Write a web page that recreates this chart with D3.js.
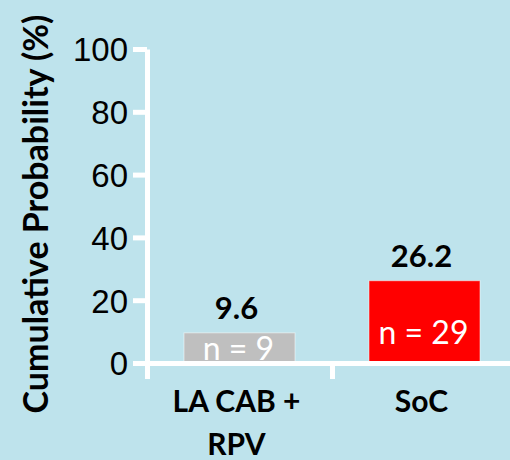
<!DOCTYPE html>
<html>
<head>
<meta charset="utf-8">
<script src="https://cdn.jsdelivr.net/npm/d3@7"></script>
<style>
  html, body { margin: 0; padding: 0; background: #bee3ec; }
  svg { display: block; font-family: Lato, "Open Sans", sans-serif; }
</style>
</head>
<body>
<div id="chart"></div>
<script>
// chart data
const categories = [['LA CAB +', 'RPV'], ['SoC']];
const values = [9.6, 26.2];
const nLabels = ['n = 9', 'n = 29'];
const barColors = ['#bfbfbf', '#ff0000'];
const yTicks = [0, 20, 40, 60, 80, 100];

const width = 510, height = 460;
const margin = {left: 147, top: 49, bottom: 97};
const plotRight = 517;
const y0 = height - margin.bottom;

const svg = d3.select('#chart').append('svg')
    .attr('width', width).attr('height', height);

const x = d3.scaleBand()
    .domain(d3.range(categories.length))
    .range([margin.left, plotRight])
    .padding(0);
const xEdge = d3.scaleLinear()
    .domain([0, categories.length])
    .range([margin.left, plotRight]);
const y = d3.scaleLinear()
    .domain([0, 100])
    .range([y0, margin.top]);

const barW = x.bandwidth() * 0.6;

// bars
const bars = svg.append('g').selectAll('g.bar')
    .data(values)
    .enter().append('g')
    .attr('class', 'bar');

bars.append('rect')
    .attr('x', (d, i) => x(i) + (x.bandwidth() - barW) / 2)
    .attr('y', (d) => y(d))
    .attr('width', barW)
    .attr('height', (d) => y(0) - y(d))
    .attr('fill', (d, i) => barColors[i])
    .attr('stroke', 'rgba(255,255,255,0.5)')
    .attr('stroke-width', 1);

// n labels inside bars
bars.append('text')
    .attr('x', (d, i) => x(i) + x.bandwidth() / 2 - 1)
    .attr('y', (d) => Math.max(y(d) + 27, y(0) - 19))
    .attr('text-anchor', 'middle')
    .attr('fill', '#fff')
    .style('font-size', '32px')
    .text((d, i) => nLabels[i]);

// value labels above bars
bars.append('text')
    .attr('x', (d, i) => x(i) + x.bandwidth() / 2 - 3)
    .attr('y', (d) => y(d) - 14)
    .attr('text-anchor', 'middle')
    .attr('fill', '#000')
    .style('font-size', '31px')
    .style('font-weight', 'bold')
    .text((d) => d);

// y axis
const yAxis = svg.append('g')
    .attr('class', 'y-axis')
    .attr('transform', 'translate(' + margin.left + ',0)')
    .call(d3.axisLeft(y).tickValues(yTicks).tickSize(14).tickSizeOuter(0).tickPadding(5));

// x axis with ticks between categories
const xAxis = svg.append('g')
    .attr('class', 'x-axis')
    .attr('transform', 'translate(0,' + y0 + ')')
    .call(d3.axisBottom(xEdge).tickValues(d3.range(categories.length + 1))
        .tickSize(16).tickSizeOuter(0).tickFormat(''));

svg.selectAll('.y-axis path, .y-axis line, .x-axis path, .x-axis line')
    .attr('stroke', '#fff')
    .attr('stroke-width', 5);

yAxis.selectAll('text')
    .attr('fill', '#000')
    .style('font-size', '33px')
    .attr('dy', '0.36em');

// category labels
svg.append('g').selectAll('text.cat')
    .data(categories)
    .enter().append('text')
    .attr('class', 'cat')
    .attr('x', (d, i) => x(i) + x.bandwidth() / 2 - 3)
    .attr('y', 412)
    .attr('text-anchor', 'middle')
    .style('font-size', '30px')
    .style('font-weight', 'bold')
    .selectAll('tspan')
    .data((d) => d)
    .enter().append('tspan')
    .attr('x', function () { return this.parentNode.getAttribute('x'); })
    .attr('dy', (d, j) => j === 0 ? 0 : 43)
    .text((d) => d);

// y title
svg.append('text')
    .attr('transform', 'translate(48,214) rotate(-90)')
    .attr('text-anchor', 'middle')
    .style('font-size', '34px')
    .style('font-weight', 'bold')
    .text('Cumulative Probability (%)');
</script>
</body>
</html>
